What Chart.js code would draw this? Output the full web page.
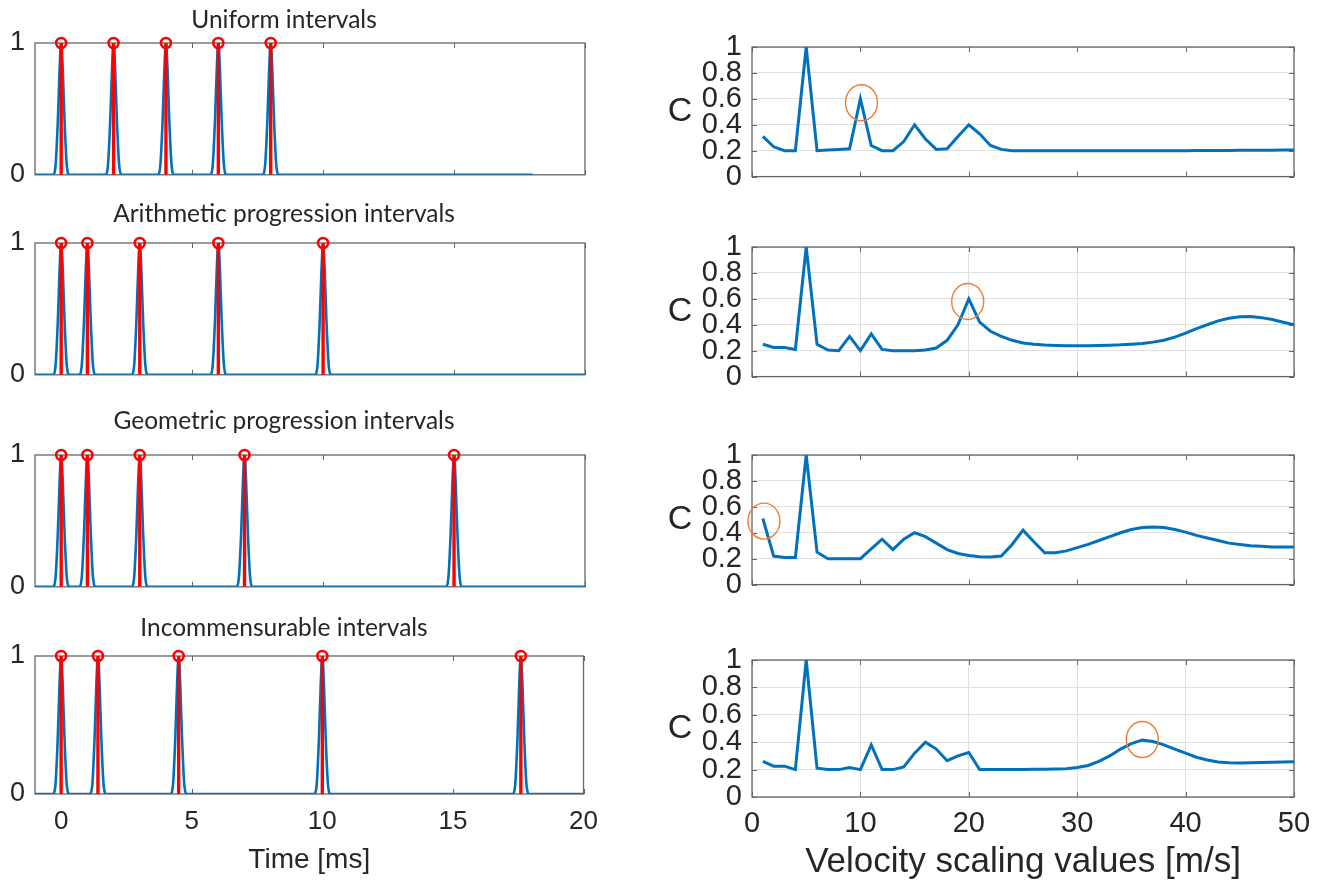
<!DOCTYPE html>
<html>
<head>
<meta charset="utf-8">
<script src="https://cdn.jsdelivr.net/npm/chart.js@4.4.0/dist/chart.umd.min.js"></script>
<style>
  body { margin: 0; background: #fff; }
  #fig { position: relative; width: 1323px; height: 888px; overflow: hidden; }
  #fig canvas { position: absolute; }
</style>
</head>
<body>
<div id="fig"></div>
<script>
// ---- data ----
const panelTitles = ['Uniform intervals', 'Arithmetic progression intervals', 'Geometric progression intervals', 'Incommensurable intervals'];
const uniformSpikes = [0, 2, 4, 6, 8];
const arithmeticSpikes = [0, 1, 3, 6, 10];
const geometricSpikes = [0, 1, 3, 7, 15];
const incommensurableSpikes = [0, 1.41, 4.5, 10, 17.6];
const traceStart = -1;
const traceEnds = [18, 20, 20, 20];
// shape of one smoothed pulse (ms offset / height)
const pulseOffsets = [-0.32, -0.22, -0.13, -0.06, 0, 0.06, 0.13, 0.22, 0.32];
const pulseHeights = [0, 0.06, 0.4, 0.8, 1, 0.8, 0.4, 0.06, 0];
const timeTicks = [0, 5, 10, 15, 20];
const spikeTicks = [0, 1];

const velocities = [1, 2, 3, 4, 5, 6, 7, 8, 9, 10, 11, 12, 13, 14, 15, 16, 17, 18, 19, 20,
  21, 22, 23, 24, 25, 26, 27, 28, 29, 30, 31, 32, 33, 34, 35, 36, 37, 38, 39, 40,
  41, 42, 43, 44, 45, 46, 47, 48, 49, 50];
const cUniform = [0.31, 0.23, 0.20, 0.20, 1.00, 0.20, 0.205, 0.21, 0.215, 0.60,
  0.24, 0.20, 0.20, 0.27, 0.40, 0.29, 0.21, 0.215, 0.31, 0.40,
  0.33, 0.24, 0.21, 0.20, 0.20, 0.20, 0.20, 0.20, 0.20, 0.20,
  0.20, 0.20, 0.20, 0.20, 0.20, 0.20, 0.20, 0.20, 0.20, 0.20,
  0.201, 0.201, 0.202, 0.202, 0.203, 0.203, 0.204, 0.204, 0.205, 0.205];
const cArithmetic = [0.25, 0.225, 0.225, 0.21, 1.00, 0.25, 0.205, 0.20, 0.31, 0.20,
  0.33, 0.21, 0.20, 0.20, 0.20, 0.205, 0.22, 0.28, 0.40, 0.60,
  0.42, 0.35, 0.31, 0.28, 0.26, 0.25, 0.243, 0.24, 0.238, 0.238,
  0.239, 0.24, 0.242, 0.245, 0.25, 0.256, 0.266, 0.28, 0.305, 0.335,
  0.37, 0.40, 0.43, 0.45, 0.462, 0.463, 0.455, 0.44, 0.42, 0.40];
const cGeometric = [0.51, 0.22, 0.21, 0.21, 1.00, 0.25, 0.20, 0.20, 0.20, 0.20,
  0.275, 0.35, 0.27, 0.35, 0.40, 0.37, 0.32, 0.27, 0.24, 0.225,
  0.215, 0.213, 0.22, 0.31, 0.42, 0.33, 0.245, 0.245, 0.26, 0.285,
  0.31, 0.34, 0.37, 0.40, 0.425, 0.44, 0.445, 0.44, 0.425, 0.405,
  0.38, 0.36, 0.34, 0.32, 0.31, 0.30, 0.295, 0.29, 0.29, 0.29];
const cIncommensurable = [0.26, 0.225, 0.225, 0.20, 1.00, 0.21, 0.20, 0.20, 0.215, 0.20,
  0.38, 0.20, 0.20, 0.22, 0.32, 0.40, 0.35, 0.265, 0.30, 0.325,
  0.20, 0.20, 0.20, 0.20, 0.20, 0.202, 0.203, 0.205, 0.207, 0.215,
  0.23, 0.26, 0.30, 0.35, 0.39, 0.415, 0.405, 0.38, 0.35, 0.32,
  0.29, 0.27, 0.255, 0.25, 0.248, 0.25, 0.252, 0.254, 0.255, 0.257];
const velocityTicks = [0, 10, 20, 30, 40, 50];
const cTicks = [0, 0.2, 0.4, 0.6, 0.8, 1];
const cTickLabels = ['0', '0.2', '0.4', '0.6', '0.8', '1'];
// circled points
const highlightX = [10.1, 19.9, 1.1, 36];
const highlightY = [0.57, 0.58, 0.49, 0.42];

const spikeSets = [uniformSpikes, arithmeticSpikes, geometricSpikes, incommensurableSpikes];
const cSets = [cUniform, cArithmetic, cGeometric, cIncommensurable];

// ---- layout ----
const BLUE = '#0072BD', RED = '#FF0000', ORANGE = '#ED7D31';
const TEXT = '#262626', GRID = '#e0e0e0', AXIS = '#666666';
const leftBox = { x: 35, w: 550, h: 138, tops: [43, 243, 455, 656] };
const rightBox = { x: 752, w: 542, h: 137, tops: [47, 247, 455, 660] };
const titleCenterX = 284;
const titleYs = [20, 214, 421, 628];

const fig = document.getElementById('fig');

function makeCanvas(left, top, w, h) {
  const c = document.createElement('canvas');
  c.width = w; c.height = h;
  c.style.left = left + 'px'; c.style.top = top + 'px';
  c.style.width = w + 'px'; c.style.height = h + 'px';
  fig.appendChild(c);
  return c;
}

const framePlugin = {
  id: 'frame',
  beforeDatasetsDraw(chart, args, o) {
    const { ctx, chartArea: a, scales } = chart;
    ctx.save();
    ctx.strokeStyle = AXIS;
    ctx.lineWidth = 1;
    ctx.beginPath();
    (o.xTicks || []).forEach(v => {
      const px = Math.round(scales.x.getPixelForValue(v)) + 0.5;
      ctx.moveTo(px, a.top); ctx.lineTo(px, a.top + 5);
      ctx.moveTo(px, a.bottom); ctx.lineTo(px, a.bottom - 5);
    });
    (o.yTicks || []).forEach(v => {
      const py = Math.round(scales.y.getPixelForValue(v)) + 0.5;
      ctx.moveTo(a.left, py); ctx.lineTo(a.left + 5, py);
      ctx.moveTo(a.right, py); ctx.lineTo(a.right - 5, py);
    });
    ctx.stroke();
    ctx.lineWidth = 1.3;
    ctx.strokeRect(a.left, a.top, a.width, a.height);
    ctx.restore();
  },
  afterDraw(chart, args, o) {
    const { ctx, chartArea: a, scales } = chart;
    ctx.save();
    if (o.hx != null) {
      ctx.strokeStyle = ORANGE;
      ctx.lineWidth = 1.4;
      ctx.beginPath();
      ctx.ellipse(scales.x.getPixelForValue(o.hx), scales.y.getPixelForValue(o.hy), 16, 18, 0, 0, Math.PI * 2);
      ctx.stroke();
    }
    ctx.fillStyle = TEXT;
    ctx.textAlign = 'center';
    ctx.textBaseline = 'middle';
    if (o.title) {
      ctx.font = '24.5px Lato';
      ctx.fillText(o.title, o.titleX, o.titleY);
    }
    if (o.ylabel) {
      ctx.font = '34px "Liberation Sans"';
      ctx.fillText(o.ylabel, o.ylabelX, (a.top + a.bottom) / 2);
    }
    ctx.restore();
  }
};

function fixedTicks(list) {
  return scale => { scale.ticks = list.map(v => ({ value: v })); };
}

// ---- left column: spike trains ----
spikeSets.forEach((spikes, i) => {
  const last = i === 3;
  const padTop = 45, yW = leftBox.x, padR = 25;
  const top = leftBox.tops[i] - padTop;
  const xH = last ? 888 - (leftBox.tops[i] + leftBox.h) : 0;
  const h = padTop + leftBox.h + (last ? xH : 20);
  const canvas = makeCanvas(0, top, yW + leftBox.w + padR, h);

  const trace = [{ x: traceStart, y: 0 }];
  spikes.forEach(t => {
    pulseOffsets.forEach((d, k) => trace.push({ x: t + d, y: pulseHeights[k] }));
  });
  trace.push({ x: traceEnds[i], y: 0 });

  const stems = [];
  spikes.forEach(t => { stems.push({ x: t, y: 0 }, { x: t, y: 1 }, { x: t, y: null }); });
  const heads = spikes.map(t => ({ x: t, y: 1 }));

  new Chart(canvas, {
    type: 'line',
    data: {
      datasets: [
        { data: heads, showLine: false, clip: false, pointRadius: 5, pointBorderWidth: 2.6,
          pointBorderColor: RED, pointBackgroundColor: 'rgba(0,0,0,0)' },
        { data: stems, borderColor: RED, borderWidth: 3.4, pointRadius: 0, spanGaps: false },
        { data: trace, borderColor: BLUE, borderWidth: 2.6, pointRadius: 0,
          cubicInterpolationMode: 'monotone' }
      ]
    },
    options: {
      responsive: false, animation: false, events: [],
      layout: { padding: { top: padTop, right: padR, left: 0, bottom: last ? 0 : 20 } },
      plugins: {
        legend: { display: false }, tooltip: { enabled: false },
        frame: { xTicks: timeTicks, title: panelTitles[i], titleX: titleCenterX, titleY: titleYs[i] - top }
      },
      scales: {
        x: {
          type: 'linear', min: -1, max: 20, display: last,
          afterBuildTicks: fixedTicks(timeTicks),
          afterFit: s => { s.height = xH; },
          grid: { display: false, drawTicks: false },
          border: { display: false },
          ticks: { autoSkip: false, maxRotation: 0, padding: 12, color: TEXT,
                   font: { family: 'Liberation Sans', size: 26 } },
          title: { display: last, text: 'Time [ms]', color: TEXT, padding: { bottom: 11 },
                   font: { family: 'Liberation Sans', size: 28 } }
        },
        y: {
          min: 0, max: 1,
          afterBuildTicks: fixedTicks(spikeTicks),
          afterFit: s => { s.width = yW; },
          grid: { display: false, drawTicks: false },
          border: { display: false },
          ticks: { autoSkip: false, padding: 10, color: TEXT,
                   font: { family: 'Liberation Sans', size: 27 } }
        }
      }
    },
    plugins: [framePlugin]
  });
});

// ---- right column: C vs velocity ----
cSets.forEach((values, i) => {
  const last = i === 3;
  const canvasLeft = 660;
  const padTop = 30, yW = rightBox.x - canvasLeft, padR = 1323 - rightBox.x - rightBox.w;
  const top = rightBox.tops[i] - padTop;
  const xH = last ? 888 - (rightBox.tops[i] + rightBox.h) : 0;
  const h = padTop + rightBox.h + (last ? xH : 20);
  const canvas = makeCanvas(canvasLeft, top, yW + rightBox.w + padR, h);
  const vGrid = i === 1 || i === 3;

  new Chart(canvas, {
    type: 'line',
    data: {
      labels: velocities,
      datasets: [{
        data: velocities.map((v, k) => ({ x: v, y: values[k] })),
        borderColor: BLUE, borderWidth: 3, pointRadius: 0, tension: 0
      }]
    },
    options: {
      responsive: false, animation: false, events: [],
      layout: { padding: { top: padTop, right: padR, left: 0, bottom: last ? 0 : 20 } },
      plugins: {
        legend: { display: false }, tooltip: { enabled: false },
        frame: { xTicks: velocityTicks, yTicks: cTicks, hx: highlightX[i], hy: highlightY[i],
                 ylabel: 'C', ylabelX: 20 }
      },
      scales: {
        x: {
          type: 'linear', min: 0, max: 50, display: true,
          afterBuildTicks: fixedTicks(velocityTicks),
          afterFit: s => { s.height = xH; },
          grid: { display: vGrid, color: GRID, drawTicks: false },
          border: { display: false },
          ticks: { display: last, autoSkip: false, maxRotation: 0, padding: 10, color: TEXT,
                   font: { family: 'Liberation Sans', size: 29 } },
          title: { display: last, text: 'Velocity scaling values [m/s]', color: TEXT,
                   padding: { bottom: 5 }, font: { family: 'Liberation Sans', size: 35 } }
        },
        y: {
          min: 0, max: 1,
          afterBuildTicks: fixedTicks(cTicks),
          afterFit: s => { s.width = yW; },
          grid: { color: GRID, drawTicks: false },
          border: { display: false },
          ticks: { autoSkip: false, padding: 10, color: TEXT,
                   callback: (v, idx) => cTickLabels[idx],
                   font: { family: 'Liberation Sans', size: 29 } }
        }
      }
    },
    plugins: [framePlugin]
  });
});
</script>
</body>
</html>
